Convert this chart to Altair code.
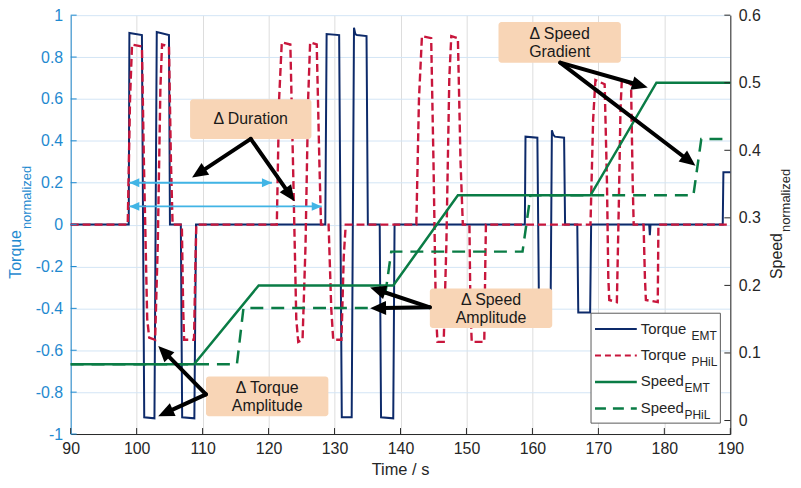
import math
import altair as alt
import pandas as pd

FONT = "Liberation Sans"
NAVY = "#0d2a6a"
RED = "#c8163c"
GREEN = "#0a7c45"
AXBLUE = "#1f8ad0"
DARK = "#262626"
PEACH = "#f8d5b6"
LIGHTBLUE = "#41b4e5"

# ---------------- data ----------------
x_ticks = [90, 100, 110, 120, 130, 140, 150, 160, 170, 180, 190]
torque_ticks = [-1, -0.8, -0.6, -0.4, -0.2, 0, 0.2, 0.4, 0.6, 0.8, 1]
speed_ticks = [0, 0.1, 0.2, 0.3, 0.4, 0.5, 0.6]

torque_emt_t = [90, 98.8, 98.9, 100.8, 101.15, 102.7, 103.05, 104.9, 105.05, 106.7, 106.9, 108.75, 109.0,
                128.6, 128.8, 130.7, 131.1, 132.6, 132.95, 133.15, 133.4, 134.85, 135.05, 136.85, 137.05, 138.9, 139.1,
                158.85, 158.95, 160.75, 161.0, 162.75, 162.95, 163.15, 163.4, 164.8, 164.95, 166.8, 166.95, 168.75, 168.9,
                177.7, 177.8, 177.9, 188.85, 188.95, 190]
torque_emt_v = [0, 0, 0.915, 0.905, -0.92, -0.925, 0.92, 0.905, 0, 0, -0.92, -0.925, 0,
                0, 0.91, 0.905, -0.92, -0.92, 0.94, 0.91, 0.905, 0.9, 0, 0, -0.92, -0.925, 0,
                0, 0.42, 0.415, -0.42, -0.42, 0.45, 0.43, 0.42, 0.415, 0, 0, -0.42, -0.42, 0,
                0, -0.05, 0, 0, 0.25, 0.25]

torque_phil_t = [90, 98.65, 99.0, 99.3, 100.8, 101.1, 101.6, 101.9, 102.8, 103.2, 103.6, 103.85, 104.9, 105.2,
                 105.45, 106.85, 107.05, 107.2, 108.7, 108.9, 109.05,
                 121.25, 121.6, 122.0, 123.3, 123.7, 124.2, 124.5, 125.15, 125.6, 126.0, 126.3, 127.3, 127.7,
                 127.95, 129.1, 129.5, 129.8, 131.05, 131.4, 131.7,
                 142.4, 142.8, 143.25, 144.65, 145.0, 145.35, 145.6, 146.55, 146.95, 147.4, 147.7, 148.7, 149.1,
                 149.45, 150.45, 150.6, 150.8, 152.7, 152.85, 152.95,
                 168.8, 169.2, 169.55, 170.95, 171.3, 171.5, 171.65, 172.8, 173.1, 173.35, 173.55, 174.95, 175.2,
                 175.35, 176.85, 177.05, 177.2, 179.0, 179.1, 190]
torque_phil_v = [0, 0, 0.6, 0.86, 0.85, 0.3, -0.45, -0.54, -0.55, -0.1, 0.65, 0.86, 0.85, 0.3,
                 0, 0, -0.4, -0.55, -0.55, -0.2, 0,
                 0, 0.6, 0.87, 0.86, 0.3, -0.45, -0.56, -0.55, -0.1, 0.6, 0.87, 0.86, 0.3,
                 0, 0, -0.4, -0.55, -0.55, -0.15, 0,
                 0, 0.6, 0.9, 0.89, 0.3, -0.4, -0.56, -0.56, -0.1, 0.7, 0.9, 0.89, 0.3,
                 0, 0, -0.4, -0.56, -0.56, -0.2, 0,
                 0, 0.5, 0.69, 0.67, 0.2, -0.25, -0.36, -0.37, 0.1, 0.55, 0.69, 0.67, 0.2,
                 0, 0, -0.25, -0.36, -0.37, 0, 0]

speed_emt_t = [90, 108.7, 118.5, 138.9, 148.7, 168.8, 178.8, 190]
speed_emt_v = [0.0833, 0.0833, 0.2, 0.2, 0.3333, 0.3333, 0.5, 0.5]

speed_phil_t = [90, 115.2, 116.2, 137.4, 138.6, 158.5, 159.7, 184.4, 185.6, 190]
speed_phil_v = [0.0833, 0.0833, 0.1667, 0.1667, 0.25, 0.25, 0.3333, 0.3333, 0.4167, 0.4167]

duration_start = [98.9, 98.9]
duration_end = [120.5, 128.05]
duration_level = [0.2, 0.087]

assert len(torque_emt_t) == len(torque_emt_v)
assert len(torque_phil_t) == len(torque_phil_v)

# ---------------- layout helpers ----------------
W, H = 663, 421
K = H / 423.0  # annotation y positions were measured on a 423 px tall plot
ONE = pd.DataFrame({"a": [0]})

XS = alt.Scale(domain=[90, 190], nice=False, zero=False)
TS = alt.Scale(domain=[-1, 1], nice=False, zero=False)
SS = alt.Scale(domain=[-0.02, 0.6], nice=False, zero=False)
LBL = "toString(round(datum.value*10)/10)"


def txt(s, x, y, size=16, color="#1a1a1a", align="center", baseline="middle", angle=0, scale_y=True):
    kw = dict(text=s, font=FONT, fontSize=size, color=color, align=align, baseline=baseline)
    if angle:
        kw["angle"] = angle
    yy = y * K if scale_y else y
    return alt.Chart(ONE).mark_text(**kw).encode(x=alt.value(x), y=alt.value(yy))


def box(x1, y1, x2, y2, fill=PEACH, stroke=None, radius=3):
    kw = dict(fill=fill, cornerRadius=radius, opacity=1)
    if stroke:
        kw.update(stroke=stroke, strokeWidth=1, cornerRadius=0)
    return alt.Chart(ONE).mark_rect(**kw).encode(
        x=alt.value(x1), x2=alt.value(x2), y=alt.value(y1 * K), y2=alt.value(y2 * K))


def head_shape(length, width):
    w = width / (2.0 * length)
    return f"M0,0L{-w:.3f},1L{w:.3f},1Z", (2 * length) ** 2


def arrow(x0, y0, x1, y1, color="black", width=4, hl=16, hw=14):
    y0, y1 = y0 * K, y1 * K
    dx, dy = x1 - x0, y1 - y0
    L = math.hypot(dx, dy)
    ux, uy = dx / L, dy / L
    sx, sy = x1 - ux * hl * 0.8, y1 - uy * hl * 0.8
    ang = math.degrees(math.atan2(dx, -dy)) % 360
    shape, size = head_shape(hl, hw)
    shaft = alt.Chart(ONE).mark_rule(color=color, strokeWidth=width, strokeCap="round").encode(
        x=alt.value(x0), y=alt.value(y0), x2=alt.value(sx), y2=alt.value(sy))
    head = alt.Chart(ONE).mark_point(shape=shape, size=size, angle=ang, filled=True, color=color,
                                     opacity=1, strokeWidth=0).encode(x=alt.value(x1), y=alt.value(y1))
    return [shaft, head]


# ---------------- axes ----------------
x_axis = alt.Axis(values=x_ticks, title=None, grid=True, gridColor="#dddddd", domainColor=DARK,
                  ticks=False, labelColor=DARK, labelFontSize=16, labelFont=FONT, labelPadding=7,
                  labelFlush=False, labelOverlap=False)
left_axis = alt.Axis(values=torque_ticks, labelExpr=LBL, title=None, grid=True, gridColor="#d3e5f5",
                     domainColor=AXBLUE, ticks=False, labelColor=AXBLUE, labelFontSize=16, labelFont=FONT,
                     labelPadding=8, labelFlush=False, labelOverlap=False)
right_axis = alt.Axis(orient="right", values=speed_ticks, labelExpr=LBL, title=None, grid=False,
                      domainColor=DARK, ticks=False, labelColor=DARK, labelFontSize=16, labelFont=FONT,
                      labelPadding=8, labelFlush=False, labelOverlap=False)


def X(field):
    return alt.X(field, type="quantitative", scale=XS, axis=x_axis)


def YT(field):
    return alt.Y(field, type="quantitative", scale=TS, axis=left_axis)


def YS(field):
    return alt.Y(field, type="quantitative", scale=SS, axis=right_axis)


# ---------------- torque (left axis) ----------------
df_emt = pd.DataFrame({"t": torque_emt_t, "v": torque_emt_v})
df_phil = pd.DataFrame({"t": torque_phil_t, "v": torque_phil_v})

emt_line = alt.Chart(df_emt).mark_line(color=NAVY, strokeWidth=2).encode(x=X("t"), y=YT("v"))
phil_line = alt.Chart(df_phil).mark_line(color=RED, strokeWidth=2.4, strokeDash=[8, 4]).encode(
    x=X("t"), y=YT("v"))

x_tick_rules = alt.Chart(pd.DataFrame({"t": x_ticks})).mark_rule(color=DARK, strokeWidth=1).encode(
    x=X("t"), y=alt.value(H), y2=alt.value(H - 6))
left_tick_rules = alt.Chart(pd.DataFrame({"v": torque_ticks})).mark_rule(color=AXBLUE, strokeWidth=1).encode(
    y=YT("v"), x=alt.value(0), x2=alt.value(6))

df_dur = pd.DataFrame({"t": duration_start, "t2": duration_end, "v": duration_level})
bshape, bsize = head_shape(10, 9)
dur_shaft = alt.Chart(df_dur).mark_rule(color=LIGHTBLUE, strokeWidth=2).encode(
    x=X("t"), x2="t2:Q", y=YT("v"))
dur_head_l = alt.Chart(df_dur).mark_point(shape=bshape, size=bsize, angle=270, filled=True, color=LIGHTBLUE,
                                          opacity=1, strokeWidth=0).encode(x=X("t"), y=YT("v"))
dur_head_r = alt.Chart(df_dur).mark_point(shape=bshape, size=bsize, angle=90, filled=True, color=LIGHTBLUE,
                                          opacity=1, strokeWidth=0).encode(x=X("t2"), y=YT("v"))

torque_group = alt.layer(emt_line, phil_line, x_tick_rules, left_tick_rules, dur_shaft, dur_head_l, dur_head_r)

# ---------------- speed (right axis) ----------------
df_semt = pd.DataFrame({"t": speed_emt_t, "v": speed_emt_v})
df_sphil = pd.DataFrame({"t": speed_phil_t, "v": speed_phil_v})

semt_line = alt.Chart(df_semt).mark_line(color=GREEN, strokeWidth=2.5).encode(x=X("t"), y=YS("v"))
sphil_line = alt.Chart(df_sphil).mark_line(color=GREEN, strokeWidth=2.5, strokeDash=[13, 8]).encode(
    x=X("t"), y=YS("v"))
right_tick_rules = alt.Chart(pd.DataFrame({"v": speed_ticks})).mark_rule(color=DARK, strokeWidth=1).encode(
    y=YS("v"), x=alt.value(W), x2=alt.value(W - 6))

speed_group = alt.layer(semt_line, sphil_line, right_tick_rules)

# ---------------- annotations, titles, legend ----------------
ann = []
# Delta Duration
ann += [box(120, 85, 242, 125), txt("Δ Duration", 181, 105)]
ann += arrow(181, 125, 122, 164) + arrow(181, 125, 225, 188)
# Delta Torque Amplitude
ann += [box(136, 365, 259, 405), txt("Δ Torque", 197.5, 377), txt("Amplitude", 197.5, 395)]
ann += arrow(136, 383, 88, 334) + arrow(136, 383, 88, 405)
# Delta Speed Amplitude
ann += [box(361, 276, 484, 316), txt("Δ Speed", 422.5, 288), txt("Amplitude", 422.5, 306)]
ann += arrow(361, 295, 301, 275) + arrow(361, 295, 301, 296)
# Delta Speed Gradient
ann += [box(430, 7, 553, 48), txt("Δ Speed", 491.5, 19), txt("Gradient", 491.5, 37)]
ann += arrow(492, 48, 580, 73) + arrow(492, 48, 628, 152)

# axis titles
ann += [txt("Time / s", W / 2, 462, size=16.5, color=DARK, baseline="alphabetic", scale_y=False)]
ann += [txt("Torque", -50, 216, size=16, color=AXBLUE, align="right", baseline="alphabetic", angle=270,
            scale_y=False),
        txt("normalized", -40, 215, size=13, color=AXBLUE, align="left", baseline="alphabetic", angle=270,
            scale_y=False)]
ann += [txt("Speed", 715, 219, size=16, color=DARK, align="right", baseline="alphabetic", angle=270,
            scale_y=False),
        txt("normalized", 723, 218, size=13, color=DARK, align="left", baseline="alphabetic", angle=270,
            scale_y=False)]

# legend
ann += [box(523, 301, 653, 412, fill="white", stroke="#5a5a5a")]
leg_rows = [
    ("Torque", "EMT", NAVY, 2, None, 624),
    ("Torque", "PHiL", RED, 2, [6, 4], 624),
    ("Speed", "EMT", GREEN, 2.5, None, 617),
    ("Speed", "PHiL", GREEN, 2.5, [11, 7], 617),
]
for i, (main, sub, col, sw, dash, subx) in enumerate(leg_rows):
    ly = (317 + i * 26.7) * K
    kw = dict(color=col, strokeWidth=sw)
    if dash:
        kw["strokeDash"] = dash
    ann.append(alt.Chart(ONE).mark_rule(**kw).encode(
        x=alt.value(527), x2=alt.value(569), y=alt.value(ly), y2=alt.value(ly)))
    ann.append(txt(main, 573, ly + 4.5, size=15, color=DARK, align="left", baseline="alphabetic",
                   scale_y=False))
    ann.append(txt(sub, subx, ly + 10.5, size=12, color=DARK, align="left", baseline="alphabetic",
                   scale_y=False))

annot_group = alt.layer(*ann)

chart = alt.layer(torque_group, speed_group, annot_group).resolve_scale(y="independent").properties(
    width=W, height=H,
    padding={"left": 63, "top": 6, "right": 63, "bottom": 45},
    autosize=alt.AutoSizeParams(type="none"),
    background="white",
).configure_view(stroke=None)

chart.save("out.html", embed_options={"renderer": "svg", "actions": False})
